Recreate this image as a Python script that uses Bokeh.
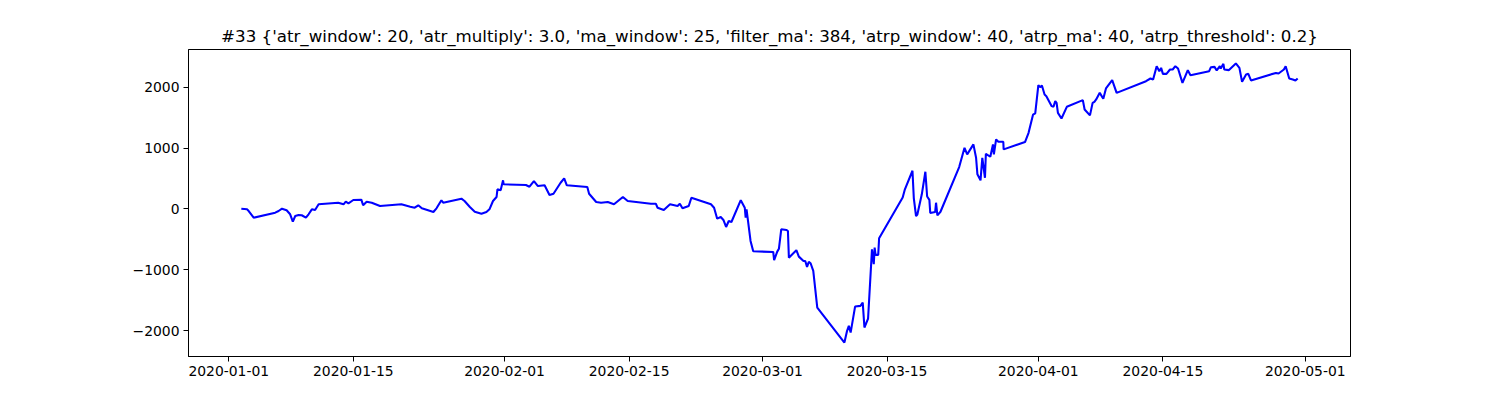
import pandas as pd
from bokeh.plotting import figure
from bokeh.models import Range1d, FixedTicker, DatetimeTickFormatter
from bokeh.embed import file_html
from bokeh.resources import INLINE

TITLE = ("#33 {'atr_window': 20, 'atr_multiply': 3.0, 'ma_window': 25, 'filter_ma': 384, "
         "'atrp_window': 40, 'atrp_ma': 40, 'atrp_threshold': 0.2}")

# days since 2020-01-01 (fractional, intraday)
day_offset = [
    1.41, 2.05, 2.24, 2.8, 5.22, 5.6, 5.98, 6.5, 6.9, 7.2, 7.47, 7.85, 8.2, 8.67, 8.97,
    9.34, 9.7, 10.1, 12.3, 12.9, 13.15, 13.45, 14.0, 14.9, 15.1, 15.5, 16.07, 17.0, 19.4,
    20.4, 20.9, 21.3, 21.7, 22.4, 23.0, 23.35, 23.9, 24.1, 26.15, 26.5, 27.1, 27.65, 28.4,
    28.96, 29.3, 29.7, 30.1, 30.2, 30.56, 30.83, 30.9, 33.4, 33.8, 34.3, 34.75, 35.5, 36.05,
    36.5, 37.3, 37.7, 38.0, 40.3, 40.5, 41.3, 41.85, 42.6, 43.3, 44.3, 44.84, 47.45, 48.0,
    48.2, 48.9, 49.6, 50.45, 50.7, 51.0, 51.7, 52.0, 54.2, 54.55, 54.9, 55.3, 55.6, 55.9,
    56.2, 56.5, 57.55, 58.0, 58.1, 58.2, 58.65, 58.95, 61.2, 61.3, 61.65, 61.84, 62.1, 62.7,
    62.85, 62.96, 63.8, 64.08, 64.6, 64.8, 65.0, 65.2, 65.4, 65.7, 66.15, 69.2, 69.5, 69.7,
    69.9, 70.4, 71.0, 71.26, 71.45, 71.86, 72.3, 72.5, 72.6, 72.7, 73.0, 73.1, 75.75, 76.0,
    76.85, 77.0, 77.25, 77.4, 77.9, 78.3, 78.5, 78.75, 78.85, 79.4, 79.5, 79.65, 80.0, 82.1,
    82.7, 83.0, 83.7, 84.0, 84.15, 84.5, 84.7, 85.0, 85.1, 85.6, 85.9, 86.0, 86.25, 86.5,
    87.06, 87.1, 89.5, 89.9, 90.4, 90.65, 91.0, 91.2, 91.4, 91.7, 91.9, 92.5, 92.7, 92.9,
    93.05, 93.2, 93.6, 94.2, 96.0, 96.2, 96.8, 97.1, 97.3, 97.5, 97.9, 98.3, 98.6, 99.3,
    99.8, 103.1, 103.6, 103.9, 104.3, 104.6, 104.8, 105.0, 105.4, 105.8, 106.1, 106.4, 106.7,
    107.2, 107.8, 108.1, 110.2, 110.4, 110.8, 111.05, 111.4, 111.5, 111.8, 111.9, 112.4,
    113.2, 113.6, 113.9, 114.35, 114.6, 114.9, 117.7, 118.0, 118.6, 118.8, 119.2, 119.6,
    119.9, 120.15,
]

equity = [
    5, -5, -33, -143, -60, -33, 5, -21, -87, -208, -115, -98, -103, -143, -87,
    -5, -16, 77, 103, 77, 120, 93, 148, 153, 61, 120, 103, 49, 77,
    38, 21, 61, 11, -21, -49, 11, 143, 103, 169, 131, 33, -44, -77,
    -49, -5, 131, 197, 323, 307, 471, 405, 394, 366, 459, 377, 389, 230,
    251, 431, 503, 389, 361, 251, 115, 103, 115, 77, 197, 131, 87, 87,
    21, -16, 77, 49, 87, 11, 49, 185, 77, 21, -159, -131, -180, -295,
    -197, -213, 145, 21, -143, -5, -525, -695, -705, -841, -700, -651, -333, -344,
    -361, -799, -677, -782, -853, -853, -951, -869, -891, -1017, -1618, -2193, -2001, -1919,
    -2029, -1602, -1591, -1537, -1946, -1799, -661, -907, -635, -754, -754, -481, 190, 323,
    628, 180, -115, -90, 241, 612, 205, 150, -65, -50, 103, -105, -45, 689,
    1005, 897, 1061, 841, 569, 471, 841, 513, 907, 858, 1061, 897, 1143, 1104,
    1104, 979, 1099, 1251, 1548, 1570, 2034, 2001, 2029, 1881, 1853, 1689, 1678, 1771,
    1743, 1579, 1487, 1678, 1788, 1635, 1537, 1743, 1760, 1799, 1907, 1809, 1979, 2116,
    1907, 2099, 2143, 2127, 2345, 2263, 2317, 2219, 2219, 2291, 2291, 2345, 2307,
    2071, 2280, 2198, 2263, 2329, 2334, 2275, 2345, 2307, 2383, 2291, 2280,
    2390, 2317, 2088, 2209, 2219, 2111, 2235, 2225, 2291, 2345, 2143, 2127,
    2111, 2143,
]

x_tick_labels = ["2020-01-01", "2020-01-15", "2020-02-01", "2020-02-15", "2020-03-01",
                 "2020-03-15", "2020-04-01", "2020-04-15", "2020-05-01"]
y_ticks = [-2000, -1000, 0, 1000, 2000]

base = pd.Timestamp("2020-01-01")
dates = base + pd.to_timedelta(day_offset, unit="D")

# matplotlib-like 5% margins
xmin, xmax = dates.min(), dates.max()
xpad = (xmax - xmin) * 0.05
ymin, ymax = min(equity), max(equity)
ypad = (ymax - ymin) * 0.05

p = figure(width=1484, height=384, x_axis_type="datetime",
           output_backend="svg", toolbar_location=None,
           x_range=Range1d(xmin - xpad, xmax + xpad),
           y_range=Range1d(ymin - ypad, ymax + ypad),
           min_border_left=188, min_border_right=134,
           min_border_top=49, min_border_bottom=28)

p.title.text = TITLE
p.title.align = "center"
p.title.text_font = "DejaVu Sans"
p.title.text_font_size = "16.67px"
p.title.text_font_style = "normal"
p.title.text_color = "black"
p.title.standoff = 8
p.title.offset = -7

p.line(dates, equity, line_color="#0000ff", line_width=2.08)

p.grid.visible = False
p.background_fill_color = "white"
p.border_fill_color = "white"
p.outline_line_color = "black"
p.outline_line_width = 1
p.outline_line_alpha = 1

tick_ms = [pd.Timestamp(t).value / 1e6 for t in x_tick_labels]
p.xaxis.ticker = FixedTicker(ticks=tick_ms)
fmt = "%Y-%m-%d"
p.xaxis.formatter = DatetimeTickFormatter(
    microseconds=fmt, milliseconds=fmt, seconds=fmt, minsec=fmt, minutes=fmt,
    hourmin=fmt, hours=fmt, days=fmt, months=fmt, years=fmt)
p.yaxis.ticker = FixedTicker(ticks=y_ticks)
p.yaxis.major_label_overrides = {t: (str(t).replace("-", "\u2212")) for t in y_ticks}

for ax in (p.xaxis[0], p.yaxis[0]):
    ax.axis_line_color = "black"
    ax.axis_line_width = 1
    ax.major_tick_line_color = "black"
    ax.major_tick_line_width = 1
    ax.major_tick_out = 5
    ax.major_tick_in = 0
    ax.minor_tick_out = 0
    ax.minor_tick_in = 0
    ax.major_label_text_font = "DejaVu Sans"
    ax.major_label_text_font_size = "13.9px"
    ax.major_label_text_color = "black"
    ax.major_label_standoff = 4

open("out.html", "w").write(file_html(p, INLINE))
